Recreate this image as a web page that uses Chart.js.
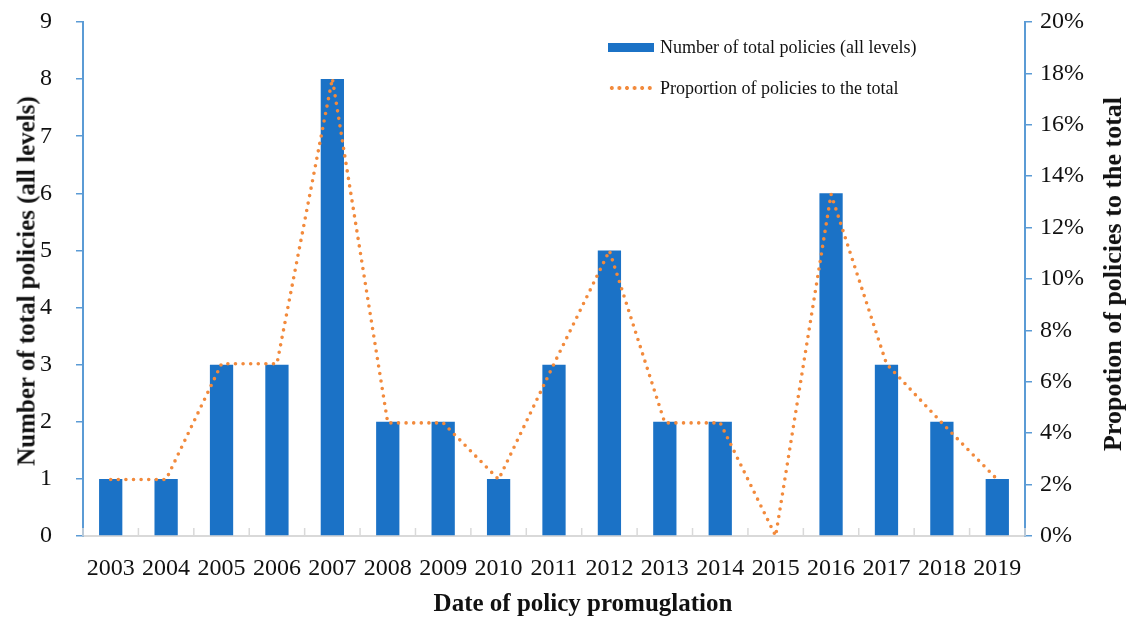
<!DOCTYPE html>
<html>
<head>
<meta charset="utf-8">
<script src="https://cdn.jsdelivr.net/npm/chart.js@4/dist/chart.umd.min.js"></script>
<style>
  html, body { margin: 0; padding: 0; background: #fff; }
  #wrap { position: relative; width: 1130px; height: 617px; }
  #legend { position: absolute; left: 608px; top: 37px; font-family: "Liberation Serif", serif; font-size: 18px; color: #111; }
  .li { display: flex; align-items: center; height: 20px; margin-bottom: 21px; }
  .sw { width: 46px; height: 9px; background: #1b72c6; margin-right: 6px; }
  .dots { width: 46px; height: 4px; margin-right: 6px;
          background-image: radial-gradient(circle, #f28a3c 1.8px, transparent 2.2px);
          background-size: 7.6px 4px; background-repeat: repeat-x; }
  .title { position: absolute; white-space: nowrap; font-family: "Liberation Serif", serif; font-weight: bold; font-size: 25px; color: #111; line-height: 1; }
  #rtitle { left: 1113px; top: 274px; font-size: 26px; transform: translate(-50%, -50%) rotate(-90deg); }
  #ltitle { left: 26px; top: 281px; transform: translate(-50%, -50%) rotate(-90deg); }
  #xtitle { left: 583px; top: 602px; transform: translate(-50%, -50%); }
</style>
</head>
<body>
<div id="wrap">
  <canvas id="c" width="1130" height="617"></canvas>
  <div id="legend">
    <div class="li"><span class="sw"></span>Number of total policies (all levels)</div>
    <div class="li"><span class="dots"></span>Proportion of policies to the total</div>
  </div>
  <div class="title" id="ltitle">Number of total policies (all levels)</div>
  <div class="title" id="rtitle">Propotion of policies to the total</div>
  <div class="title" id="xtitle">Date of policy promuglation</div>
</div>
<script>
const years = ["2003","2004","2005","2006","2007","2008","2009","2010","2011","2012","2013","2014","2015","2016","2017","2018","2019"];
const policyCounts = [1,1,3,3,8,2,2,1,3,5,2,2,0,6,3,2,1];
const proportionPct = [2.2,2.2,6.7,6.7,17.8,4.4,4.4,2.2,6.7,11.1,4.4,4.4,0,13.3,6.7,4.4,2.2];
const leftTicks = [0,1,2,3,4,5,6,7,8,9];
const rightTicks = [0,2,4,6,8,10,12,14,16,18,20];

const serif = "'Liberation Serif', 'Times New Roman', serif";
const axisBlue = '#5b9bd5';

// small grey category-boundary ticks pointing up into the plot, as in the original
const innerTicks = {
  id: 'innerTicks',
  afterDatasetsDraw(chart) {
    const x = chart.scales.x, ctx = chart.ctx, bottom = chart.chartArea.bottom;
    ctx.save();
    ctx.strokeStyle = '#d9d9d9';
    ctx.lineWidth = 1.5;
    for (let i = 0; i <= years.length; i++) {
      const px = x.getPixelForValue(i - 0.5);
      ctx.beginPath();
      ctx.moveTo(px, bottom);
      ctx.lineTo(px, bottom - 8);
      ctx.stroke();
    }
    ctx.restore();
  }
};

new Chart(document.getElementById('c'), {
  plugins: [innerTicks],
  data: {
    labels: years,
    datasets: [
      {
        type: 'line',
        label: 'Proportion of policies to the total',
        data: proportionPct,
        yAxisID: 'y1',
        borderColor: '#f28a3c',
        borderWidth: 3.6,
        borderDash: [0, 7.6],
        borderCapStyle: 'round',
        pointRadius: 0,
        tension: 0,
        fill: false,
        order: 0
      },
      {
        type: 'bar',
        label: 'Number of total policies (all levels)',
        data: policyCounts,
        yAxisID: 'y',
        backgroundColor: '#1b72c6',
        categoryPercentage: 1,
        barPercentage: 0.42,
        order: 1
      }
    ]
  },
  options: {
    responsive: false,
    animation: false,
    devicePixelRatio: 1,
    layout: { padding: { top: 22, left: 0, right: 0, bottom: 0 } },
    plugins: { legend: { display: false }, tooltip: { enabled: false } },
    scales: {
      x: {
        offset: true,
        grid: { display: true, offset: true, drawOnChartArea: false, drawTicks: false, color: '#d9d9d9' },
        border: { display: true, color: '#d9d9d9', width: 2 },
        ticks: { color: '#111', font: { family: serif, size: 24 }, padding: 18, maxRotation: 0, autoSkip: false },
        title: { display: false },
        afterFit: s => { s.height = 81; s.paddingLeft = 0; s.paddingRight = 0; }
      },
      y: {
        position: 'left',
        min: 0, max: 9,
        afterBuildTicks: s => { s.ticks = leftTicks.map(v => ({ value: v })); },
        grid: { display: true, drawOnChartArea: false, drawTicks: true, tickLength: 7, color: axisBlue, lineWidth: 1.5 },
        border: { display: true, color: axisBlue, width: 2 },
        ticks: { color: '#111', font: { family: serif, size: 24 }, padding: 24 },
        title: { display: false },
        afterFit: s => { s.width = 83; s.paddingTop = 0; s.paddingBottom = 0; }
      },
      y1: {
        position: 'right',
        min: 0, max: 20,
        afterBuildTicks: s => { s.ticks = rightTicks.map(v => ({ value: v })); },
        grid: { display: true, drawOnChartArea: false, drawTicks: true, tickLength: 7, color: axisBlue, lineWidth: 1.5 },
        border: { display: true, color: axisBlue, width: 2 },
        ticks: { color: '#111', font: { family: serif, size: 24 }, padding: 8, callback: v => v + '%' },
        title: { display: false },
        afterFit: s => { s.width = 105; s.paddingTop = 0; s.paddingBottom = 0; }
      }
    }
  }
});
</script>
</body>
</html>
